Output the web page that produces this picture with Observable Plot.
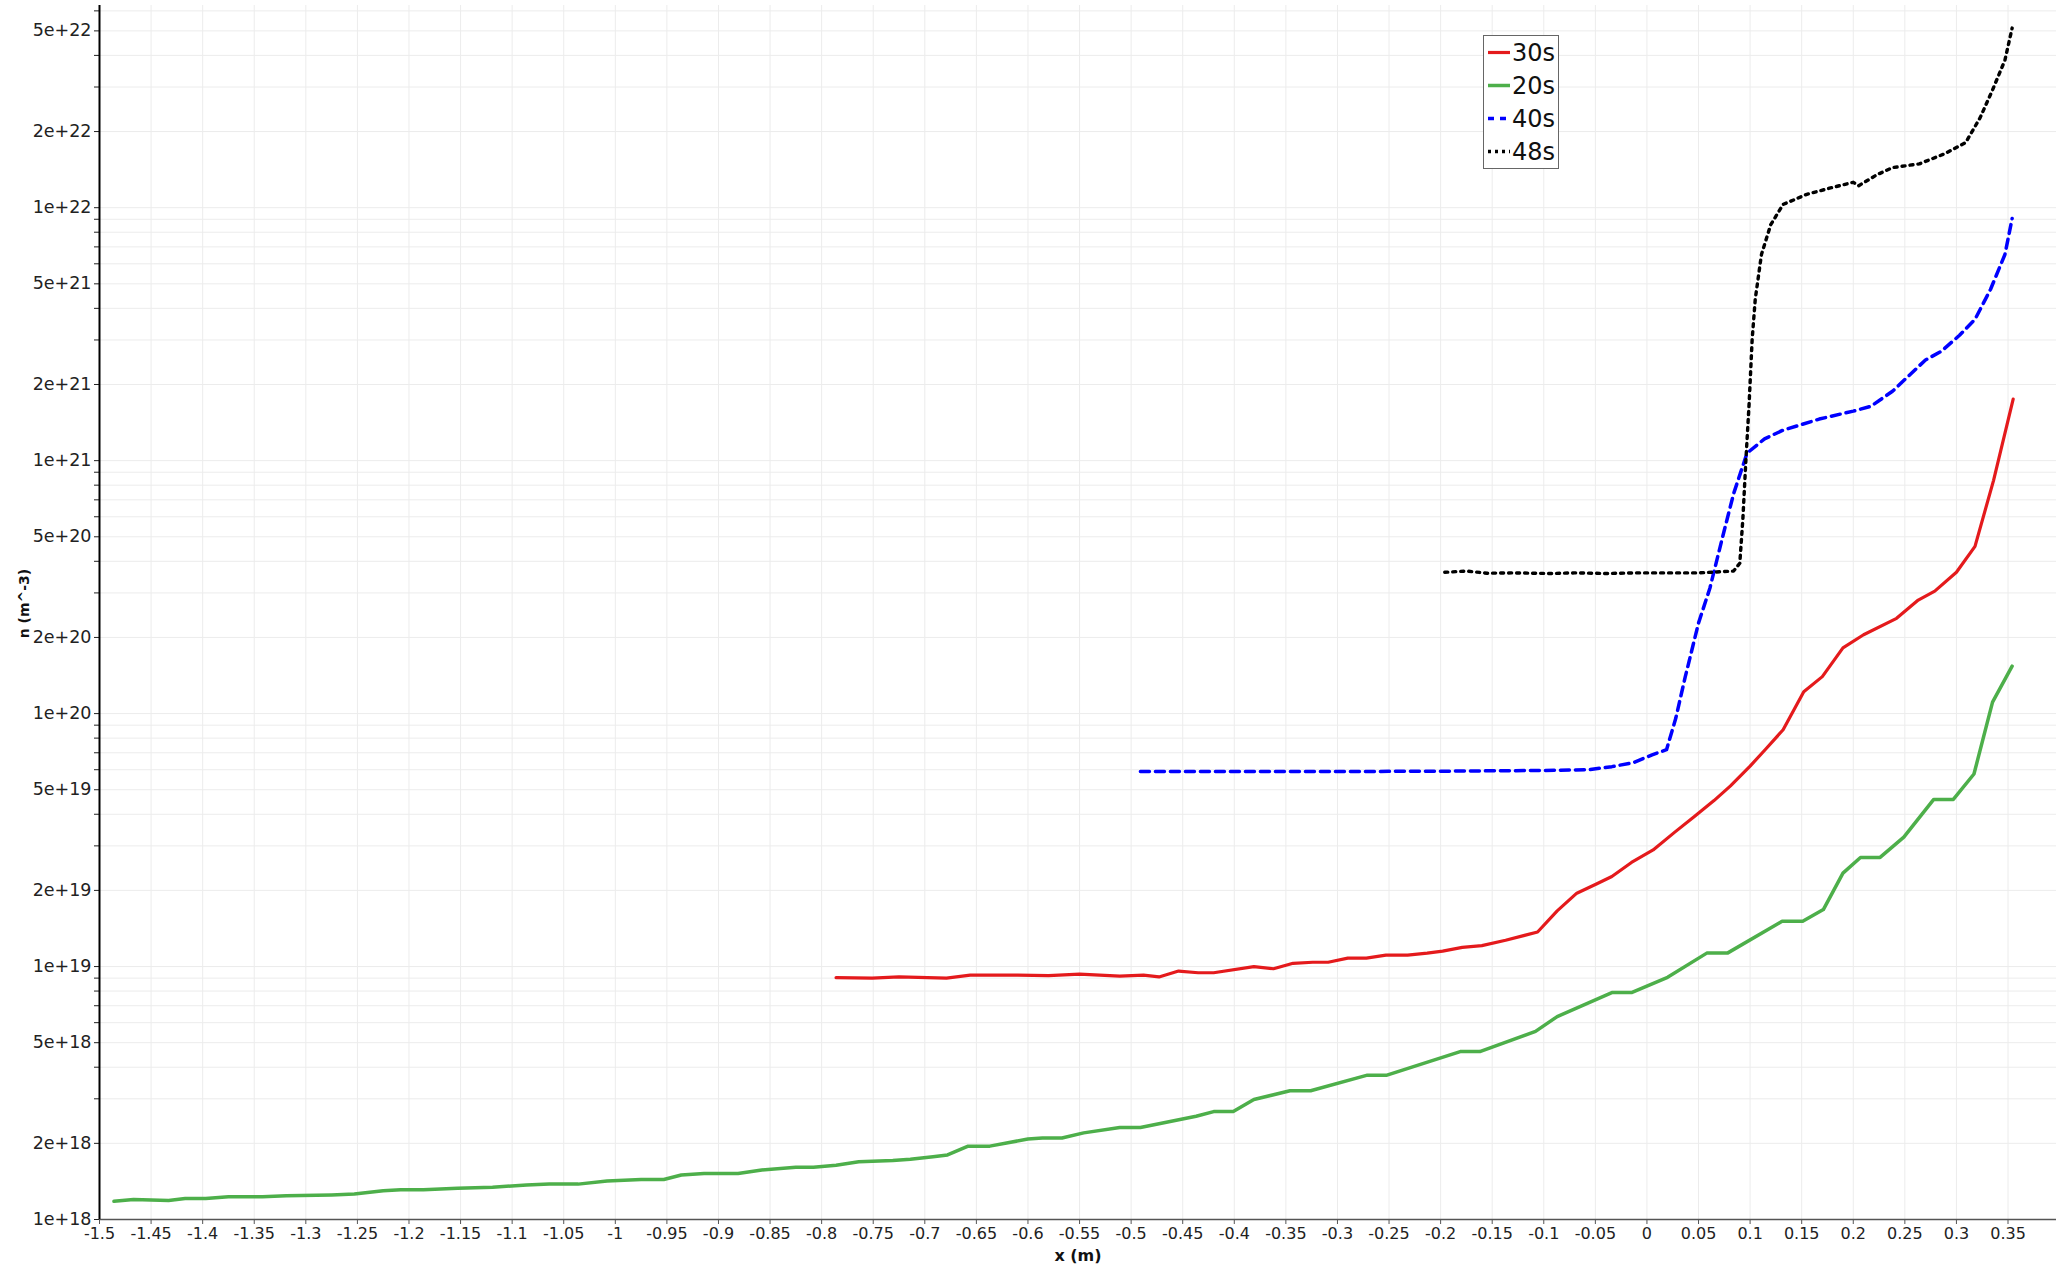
<!DOCTYPE html>
<html>
<head>
<meta charset="utf-8">
<script src="https://cdn.jsdelivr.net/npm/d3@7"></script>
<script src="https://cdn.jsdelivr.net/npm/@observablehq/plot@0.6"></script>
<style>
  body { margin: 0; background: #fff; }
  #wrap { position: relative; width: 2056px; height: 1267px; }
  #legend { position: absolute; left: 1483px; top: 35px; border: 1px solid #666; background: #fff;
            font-family: "DejaVu Sans", sans-serif; font-size: 24px; color: #111; padding: 0 3px 0 0; }
  #legend .row { display: flex; align-items: center; height: 33px; }
  #legend svg { display: block; }
</style>
</head>
<body>
<div id="wrap"><div id="legend"></div></div>
<script>
// ---- data ----
const x20 = [-1.486,-1.467,-1.433,-1.417,-1.397,-1.375,-1.342,-1.319,-1.275,-1.253,-1.225,-1.208,-1.186,-1.153,-1.119,-1.086,-1.064,-1.036,-1.008,-0.975,-0.953,-0.936,-0.914,-0.881,-0.858,-0.825,-0.808,-0.786,-0.764,-0.731,-0.714,-0.692,-0.678,-0.658,-0.637,-0.60,-0.586,-0.567,-0.546,-0.511,-0.491,-0.437,-0.42,-0.401,-0.381,-0.346,-0.326,-0.271,-0.252,-0.181,-0.162,-0.108,-0.087,-0.034,-0.015,0.020,0.058,0.078,0.131,0.151,0.171,0.19,0.207,0.226,0.249,0.278,0.297,0.317,0.335,0.354];
const n20 = [1.18e18,1.2e18,1.19e18,1.21e18,1.21e18,1.23e18,1.23e18,1.24e18,1.25e18,1.26e18,1.3e18,1.31e18,1.31e18,1.33e18,1.34e18,1.37e18,1.38e18,1.38e18,1.42e18,1.44e18,1.44e18,1.5e18,1.52e18,1.52e18,1.57e18,1.61e18,1.61e18,1.64e18,1.69e18,1.71e18,1.73e18,1.77e18,1.8e18,1.95e18,1.95e18,2.08e18,2.1e18,2.1e18,2.2e18,2.31e18,2.31e18,2.56e18,2.67e18,2.67e18,2.98e18,3.23e18,3.23e18,3.72e18,3.72e18,4.61e18,4.61e18,5.54e18,6.34e18,7.89e18,7.89e18,9.07e18,1.13e19,1.13e19,1.51e19,1.51e19,1.68e19,2.34e19,2.7e19,2.7e19,3.25e19,4.58e19,4.58e19,5.77e19,1.11e20,1.54e20];

const x30 = [-0.786,-0.751,-0.725,-0.679,-0.656,-0.61,-0.58,-0.55,-0.511,-0.488,-0.473,-0.454,-0.435,-0.42,-0.381,-0.362,-0.343,-0.324,-0.309,-0.29,-0.272,-0.253,-0.232,-0.213,-0.198,-0.179,-0.16,-0.137,-0.106,-0.087,-0.068,-0.049,-0.034,-0.015,0.006,0.027,0.046,0.065,0.081,0.10,0.115,0.132,0.152,0.170,0.190,0.210,0.242,0.263,0.279,0.30,0.318,0.336,0.355];
const n30 = [9.04e18,9.0e18,9.1e18,9.0e18,9.25e18,9.25e18,9.2e18,9.33e18,9.17e18,9.25e18,9.1e18,9.6e18,9.45e18,9.45e18,1.0e19,9.8e18,1.03e19,1.04e19,1.04e19,1.08e19,1.08e19,1.11e19,1.11e19,1.13e19,1.15e19,1.19e19,1.21e19,1.27e19,1.37e19,1.66e19,1.95e19,2.12e19,2.27e19,2.58e19,2.89e19,3.4e19,3.92e19,4.53e19,5.18e19,6.2e19,7.23e19,8.63e19,1.22e20,1.4e20,1.82e20,2.05e20,2.38e20,2.81e20,3.05e20,3.62e20,4.58e20,8.36e20,1.75e21];

const x40 = [-0.491,-0.40,-0.30,-0.20,-0.10,-0.057,-0.034,-0.013,0.005,0.019,0.028,0.037,0.05,0.061,0.073,0.084,0.097,0.114,0.132,0.167,0.20,0.217,0.238,0.253,0.27,0.285,0.303,0.318,0.333,0.347,0.354];
const n40 = [5.9e19,5.9e19,5.9e19,5.92e19,5.96e19,6.0e19,6.17e19,6.4e19,6.87e19,7.2e19,9.6e19,1.39e20,2.28e20,3.13e20,4.93e20,7.4e20,1.07e21,1.22e21,1.32e21,1.46e21,1.57e21,1.64e21,1.88e21,2.15e21,2.5e21,2.7e21,3.13e21,3.62e21,4.75e21,6.53e21,9.06e21];

const x48 = [-0.196,-0.175,-0.155,-0.13,-0.093,-0.07,-0.04,-0.01,0.02,0.05,0.084,0.09,0.093,0.096,0.099,0.102,0.105,0.111,0.12,0.132,0.155,0.179,0.2,0.205,0.223,0.238,0.264,0.288,0.309,0.323,0.335,0.347,0.354];
const n48 = [3.62e20,3.66e20,3.59e20,3.6e20,3.58e20,3.6e20,3.58e20,3.6e20,3.6e20,3.6e20,3.66e20,3.93e20,5.9e20,1.02e21,1.67e21,3.02e21,4.35e21,6.53e21,8.57e21,1.03e22,1.13e22,1.2e22,1.26e22,1.22e22,1.35e22,1.44e22,1.49e22,1.63e22,1.81e22,2.27e22,2.92e22,3.83e22,5.13e22];

const seriesNames = ["30s", "20s", "40s", "48s"];
const xTickValues = d3.range(0, 38).map(i => +(-1.5 + i * 0.05).toFixed(2));
const yDecades = [18, 19, 20, 21, 22];
const yMantissas = [1, 2, 3, 4, 5, 6, 7, 8, 9];
const yLabelMantissas = [1, 2, 5];

// ---- build tables ----
const toRows = (name, xs, ns) => xs.map((x, i) => ({series: name, x, n: ns[i]}));
const rows20 = toRows("20s", x20, n20);
const rows30 = toRows("30s", x30, n30);
const rows40 = toRows("40s", x40, n40);
const rows48 = toRows("48s", x48, n48);

const styles = {
  "30s": {stroke: "#e41a1c", strokeWidth: 3.2},
  "20s": {stroke: "#4daf4a", strokeWidth: 3.5},
  "40s": {stroke: "#0000ff", strokeWidth: 3.5, strokeDasharray: "9,6"},
  "48s": {stroke: "#000000", strokeWidth: 3.4, strokeDasharray: "3,5"}
};

const yMax = 6.3e22;
const yTicks = yDecades.flatMap(e => yMantissas.map(m => m * 10 ** e)).filter(v => v <= yMax);
const yLabelTicks = yDecades.flatMap(e => yLabelMantissas.map(m => m * 10 ** e)).filter(v => v <= yMax);
const yFmt = d => {
  const e = Math.floor(Math.log10(d) + 1e-9);
  const m = Math.round(d / 10 ** e);
  return `${m}e+${e}`;
};
const xFmt = d => String(+d.toFixed(2));

const chart = Plot.plot({
  width: 2056,
  height: 1267,
  marginLeft: 99,
  marginRight: 0,
  marginTop: 5,
  marginBottom: 48,
  x: {domain: [-1.5, 0.397]},
  y: {type: "log", domain: [1e18, yMax]},
  style: {fontFamily: "DejaVu Sans, sans-serif", fontSize: "16px", color: "#222", background: "white"},
  marks: [
    Plot.gridX({ticks: xTickValues, stroke: "#ececec", strokeOpacity: 1}),
    Plot.gridY({ticks: yTicks, stroke: "#ececec", strokeOpacity: 1}),
    Plot.axisX({ticks: xTickValues, tickFormat: xFmt, tickSize: 5, tickPadding: 3, label: null, stroke: "#555"}),
    Plot.axisY({ticks: yTicks, tickFormat: () => "", tickSize: 5, label: null}),
    Plot.text(yLabelTicks, {y: d => d, text: yFmt, frameAnchor: "left", dx: -8, textAnchor: "end", lineAnchor: "middle", fontSize: 17.5, fill: "#222"}),
    Plot.line(rows20, {x: "x", y: "n", ...styles["20s"]}),
    Plot.line(rows30, {x: "x", y: "n", ...styles["30s"]}),
    Plot.line(rows40, {x: "x", y: "n", ...styles["40s"]}),
    Plot.line(rows48, {x: "x", y: "n", ...styles["48s"]}),
    Plot.ruleY([1e18], {stroke: "#555", strokeWidth: 1.5}),
    Plot.ruleX([-1.5], {stroke: "#000", strokeWidth: 2}),
    Plot.text(["n (m^-3)"], {text: d => d, frameAnchor: "left", dx: -75, dy: -9, rotate: -90, textAnchor: "middle", fontWeight: "bold", fontSize: 14, lineAnchor: "middle", fill: "#111"}),
    Plot.text(["x (m)"], {text: d => d, frameAnchor: "bottom", dy: 36, fontWeight: "bold", fontSize: 16, lineAnchor: "middle", fill: "#111"})
  ]
});
document.getElementById("wrap").prepend(chart);

// ---- legend (inside plot, top right) ----
const legendDash = {"40s": "6,6", "48s": "3,4"};
const legend = d3.select("#legend");
seriesNames.forEach(name => {
  const s = styles[name];
  const row = legend.append("div").attr("class", "row");
  const svg = row.append("svg").attr("width", 28).attr("height", 33);
  svg.append("line").attr("x1", 4).attr("x2", 26).attr("y1", 16.5).attr("y2", 16.5)
    .attr("stroke", s.stroke).attr("stroke-width", s.strokeWidth)
    .attr("stroke-dasharray", legendDash[name] || null);
  row.append("span").text(name);
});
</script>
</body>
</html>
